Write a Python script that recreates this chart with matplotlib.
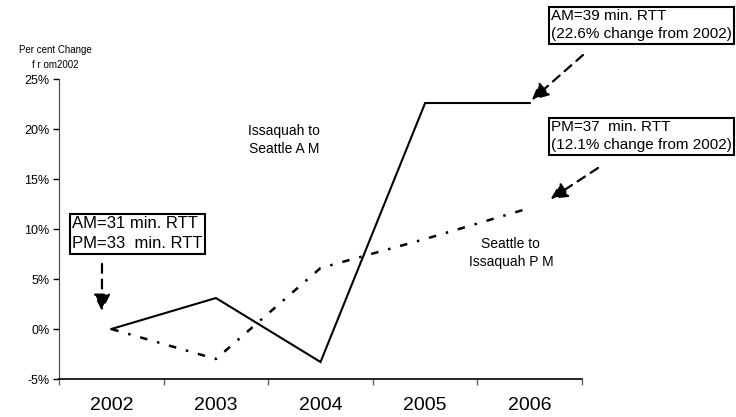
import matplotlib.pyplot as plt

# DATA
years = ["2002", "2003", "2004", "2005", "2006"]
am_change = [0.0, 3.1, -3.3, 22.6, 22.6]   # Issaquah to Seattle AM
pm_change = [0.0, -3.0, 6.1, 9.0, 12.1]    # Seattle to Issaquah PM
y_ticks = [-5, 0, 5, 10, 15, 20, 25]

plt.rcParams["font.family"] = ["Liberation Sans", "DejaVu Sans"]

fig = plt.figure(figsize=(7.36, 4.17), dpi=100)
ax = fig.add_axes([0.0802, 0.0911, 0.7106, 0.7194])

x = list(range(len(years)))
ax.plot(x, am_change, color="black", lw=1.5, solid_joinstyle="miter")
ax.plot(x, pm_change, color="black", lw=1.8, linestyle=(0, (3, 4, 1, 4)))

ax.set_xlim(-0.5, len(years) - 0.5)
ax.set_ylim(-5, 25)
ax.set_yticks(y_ticks)
ax.set_yticklabels([f"{v}%" for v in y_ticks], fontsize=9)
ax.set_xticks([i - 0.5 for i in range(len(years) + 1)])
ax.set_xticklabels([])
ax.set_xticks(x, minor=True)
ax.set_xticklabels(years, minor=True, fontsize=14)
ax.tick_params(axis="x", which="minor", length=0, pad=13)
ax.tick_params(axis="x", which="major", length=4, width=1, color="#666666")
ax.tick_params(axis="y", length=4, width=1, pad=3)
for side in ("top", "right"):
    ax.spines[side].set_visible(False)
ax.spines["left"].set_color("#444444")
ax.spines["bottom"].set_linewidth(1.2)

fig.text(55, 372, "Per cent Change\nf r om2002", transform=None, fontsize=7,
         ha="center", va="top", linespacing=1.6)

# series labels
ax.text(1.65, 18.9, "Issaquah to\nSeattle A M", fontsize=10, ha="center", va="center",
        linespacing=1.45)
ax.text(3.82, 7.6, "Seattle to\nIssaquah P M", fontsize=10, ha="center", va="center",
        linespacing=1.45)

box = dict(boxstyle="square,pad=0.15", fc="white", ec="black", lw=1.5)
arrow = dict(arrowstyle="-|>,head_length=1.0,head_width=0.5", color="black", lw=1.6,
             linestyle=(0, (4, 3)), shrinkA=0, shrinkB=0)

fig.text(72, 201, "AM=31 min. RTT\nPM=33  min. RTT", transform=None, fontsize=12,
         ha="left", va="top", linespacing=1.45, bbox=box)
ax.annotate("", xy=(-0.09, 1.8), xytext=(102, 417 - 264), textcoords="figure pixels",
            arrowprops=arrow)

fig.text(551, 408, "AM=39 min. RTT\n(22.6% change from 2002)", transform=None,
         fontsize=11, ha="left", va="top", linespacing=1.4, bbox=box)
ax.annotate("", xy=(4.02, 22.9), xytext=(583, 417 - 55), textcoords="figure pixels",
            arrowprops=arrow)

fig.text(551, 297, "PM=37  min. RTT\n(12.1% change from 2002)", transform=None,
         fontsize=11, ha="left", va="top", linespacing=1.4, bbox=box)
ax.annotate("", xy=(4.2, 13.0), xytext=(598, 417 - 168), textcoords="figure pixels",
            arrowprops=arrow)

fig.savefig("out.png", dpi=100)
